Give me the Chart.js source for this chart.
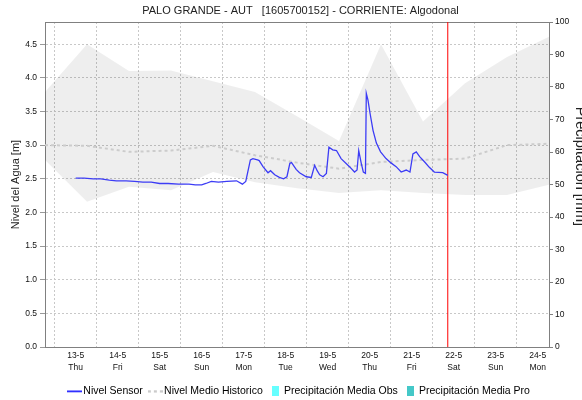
<!DOCTYPE html>
<html>
<head>
<meta charset="utf-8">
<script src="https://cdn.jsdelivr.net/npm/chart.js@4.4.1/dist/chart.umd.min.js"></script>
<style>
  html, body { margin: 0; padding: 0; background: #fff; }
</style>
</head>
<body>
<canvas id="graph" width="582" height="400"></canvas>
<script>
// x axis is in days counted from 13-5 00:00
var dayTicks = [0, 1, 2, 3, 4, 5, 6, 7, 8, 9, 10, 11];
var dayLabels = ['13-5', '14-5', '15-5', '16-5', '17-5', '18-5', '19-5', '20-5', '21-5', '22-5', '23-5', '24-5'];
var weekdayLabels = ['Thu', 'Fri', 'Sat', 'Sun', 'Mon', 'Tue', 'Wed', 'Thu', 'Fri', 'Sat', 'Sun', 'Mon'];
var xMin = -0.73;
var xMax = 11.27;
var nowDay = 8.86;

var levelMax = 4.83;
var levelTicks = [0, 0.5, 1, 1.5, 2, 2.5, 3, 3.5, 4, 4.5];
var rainTicks = [0, 10, 20, 30, 40, 50, 60, 70, 80, 90, 100];

// sensor readings (m)
var sensorDays = [0.00, 0.20, 0.42, 0.60, 0.80, 0.97, 1.20, 1.40, 1.60, 1.80, 2.00, 2.20, 2.45, 2.70, 2.85, 3.00,
  3.10, 3.23, 3.40, 3.60, 3.83, 3.97, 4.05, 4.16, 4.22, 4.33, 4.37, 4.46, 4.58, 4.64, 4.74, 4.85, 4.95, 5.03,
  5.10, 5.14, 5.25, 5.33, 5.49, 5.61, 5.69, 5.75, 5.81, 5.89, 5.97, 6.03, 6.12, 6.21, 6.32, 6.52, 6.64, 6.70,
  6.74, 6.80, 6.85, 6.90, 6.92, 6.96, 7.01, 7.08, 7.16, 7.26, 7.39, 7.50, 7.63, 7.75, 7.87, 7.96, 8.03, 8.11,
  8.19, 8.31, 8.42, 8.54, 8.74, 8.86];
var sensorLevel = [2.51, 2.51, 2.50, 2.50, 2.48, 2.47, 2.47, 2.46, 2.45, 2.45, 2.43, 2.43, 2.42, 2.42, 2.41, 2.41,
  2.43, 2.46, 2.45, 2.46, 2.47, 2.42, 2.46, 2.78, 2.80, 2.78, 2.77, 2.68, 2.59, 2.62, 2.56, 2.52, 2.50, 2.53,
  2.73, 2.74, 2.64, 2.59, 2.53, 2.52, 2.70, 2.62, 2.56, 2.53, 2.58, 2.97, 2.93, 2.92, 2.80, 2.68, 2.60, 2.63,
  2.92, 2.73, 2.60, 2.58, 3.77, 3.67, 3.47, 3.22, 3.03, 2.90, 2.80, 2.74, 2.68, 2.60, 2.63, 2.60, 2.87, 2.90,
  2.83, 2.75, 2.67, 2.60, 2.59, 2.55];

// historic daily values (m)
var histDays = [-0.73, 0.27, 1.27, 2.27, 3.27, 4.27, 5.27, 6.27, 7.27, 8.27, 9.27, 10.27, 11.27];
var histMean = [3.00, 2.99, 2.90, 2.92, 2.99, 2.85, 2.74, 2.65, 2.75, 2.78, 2.80, 3.00, 3.02];
var histHigh = [3.79, 4.50, 4.10, 4.11, 3.95, 3.79, 3.43, 3.06, 4.50, 3.35, 3.92, 4.31, 4.61];
var histLow = [2.78, 2.16, 2.38, 2.33, 2.60, 2.45, 2.36, 2.29, 2.33, 2.29, 2.26, 2.26, 2.41];

// precipitation (mm), nothing reported
var rainObs = [];
var rainPro = [];

function points(xs, ys) {
  return xs.map(function(x, i) { return {x: x, y: ys[i]}; });
}

function lineIcon(color, width, dash) {
  var c = document.createElement('canvas');
  c.width = 15; c.height = 3;
  var ctx = c.getContext('2d');
  ctx.strokeStyle = color;
  ctx.lineWidth = width;
  ctx.setLineDash(dash);
  ctx.beginPath();
  ctx.moveTo(0, 1.5);
  ctx.lineTo(15, 1.5);
  ctx.stroke();
  return c;
}

function boxIcon(color) {
  var c = document.createElement('canvas');
  c.width = 7; c.height = 10;
  var ctx = c.getContext('2d');
  ctx.fillStyle = color;
  ctx.fillRect(0, 0, 7, 10);
  return c;
}

Chart.defaults.font.family = '"Liberation Sans", Arial, sans-serif';
Chart.defaults.color = '#111';

var context = document.querySelector('#graph').getContext('2d');
var chart = new Chart(context, {
  type: 'line',
  data: {
    datasets: [{
      label: 'Nivel Sensor',
      icon: lineIcon('#0000ff', 1.5, []),
      data: points(sensorDays, sensorLevel),
      borderColor: '#3c3cf5',
      borderWidth: 1.3,
      pointRadius: 0,
      yAxisID: 'y'
    }, {
      label: 'Nivel Medio Historico',
      icon: lineIcon('#c4c4c4', 2, [3, 3]),
      data: points(histDays, histMean),
      borderColor: '#cccccc',
      borderWidth: 2,
      borderDash: [3, 3],
      pointRadius: 0,
      yAxisID: 'y'
    }, {
      type: 'bar',
      label: 'Precipitación Media Obs',
      icon: boxIcon('#66ffff'),
      data: rainObs,
      backgroundColor: '#66ffff',
      yAxisID: 'y1'
    }, {
      type: 'bar',
      label: 'Precipitación Media Pro',
      icon: boxIcon('#44c8c8'),
      data: rainPro,
      backgroundColor: '#44c8c8',
      yAxisID: 'y1'
    }, {
      data: [{x: nowDay, y: 0}, {x: nowDay, y: levelMax}],
      borderColor: '#ff0000',
      borderWidth: 1,
      pointRadius: 0,
      yAxisID: 'y'
    }, {
      data: points(histDays, histHigh),
      borderWidth: 0,
      pointRadius: 0,
      backgroundColor: 'rgba(0,0,0,0.065)',
      fill: '+1',
      yAxisID: 'y'
    }, {
      data: points(histDays, histLow),
      borderWidth: 0,
      pointRadius: 0,
      fill: false,
      yAxisID: 'y'
    }]
  },
  options: {
    responsive: false,
    animation: false,
    layout: { padding: { left: 19 } },
    plugins: {
      tooltip: { enabled: false },
      title: {
        display: true,
        text: 'PALO GRANDE - AUT   [1605700152] - CORRIENTE: Algodonal',
        color: '#222',
        font: { size: 11, weight: 'normal' },
        padding: { top: 4.4, bottom: 4.4 }
      },
      legend: {
        position: 'bottom',
        maxHeight: 23,
        labels: {
          usePointStyle: true,
          pointStyleWidth: 7,
          boxHeight: 10,
          padding: 9,
          color: '#111',
          font: { size: 10.5 },
          generateLabels: function(chart) {
            var items = [];
            chart.data.datasets.forEach(function(ds, i) {
              if (!ds.label) return;
              items.push({
                text: ds.label,
                pointStyle: ds.icon,
                datasetIndex: i,
                hidden: false,
                lineWidth: 0,
                fillStyle: 'transparent',
                strokeStyle: 'transparent'
              });
            });
            return items;
          }
        }
      }
    },
    scales: {
      x: {
        type: 'linear',
        min: xMin,
        max: xMax,
        offset: false,
        afterBuildTicks: function(scale) {
          scale.ticks = dayTicks.map(function(v) { return {value: v}; });
        },
        afterFit: function(scale) { scale.height = 30; },
        ticks: {
          autoSkip: false,
          maxRotation: 0,
          padding: 3,
          color: '#111',
          font: { size: 8.5, lineHeight: 1.35 },
          callback: function(value, index) {
            return [dayLabels[index], weekdayLabels[index]];
          }
        },
        grid: { color: '#c8c8c8', drawTicks: false },
        border: { color: '#808080', dash: [2, 2] }
      },
      x2: {
        type: 'linear',
        position: 'top',
        min: xMin,
        max: xMax,
        afterFit: function(scale) { scale.height = 0; },
        ticks: { display: false },
        grid: { display: false, drawTicks: false },
        border: { color: '#808080' }
      },
      y: {
        position: 'left',
        min: 0,
        max: levelMax,
        afterBuildTicks: function(scale) {
          scale.ticks = levelTicks.map(function(v) { return {value: v}; });
        },
        afterFit: function(scale) { scale.width = 26; },
        ticks: {
          padding: 3,
          color: '#111',
          font: { size: 8.5 },
          callback: function(value) { return value.toFixed(1); }
        },
        grid: { color: '#c8c8c8', tickLength: 5, tickColor: '#999999' },
        border: { color: '#808080', dash: [2, 2] },
        title: {
          display: true,
          text: 'Nivel del Agua [m]',
          color: '#222',
          font: { size: 11 },
          padding: { top: -10, bottom: 0 }
        }
      },
      y1: {
        position: 'right',
        min: 0,
        max: 100,
        afterBuildTicks: function(scale) {
          scale.ticks = rainTicks.map(function(v) { return {value: v}; });
        },
        afterFit: function(scale) { scale.width = 33; },
        ticks: {
          padding: 2,
          color: '#111',
          font: { size: 8.5 }
        },
        grid: { drawOnChartArea: false, tickLength: 4, color: '#808080' },
        border: { color: '#808080' },
        title: {
          display: true,
          text: 'Precipitación [mm]         ',
          color: '#222',
          font: { size: 14.5 },
          padding: { top: -6.5, bottom: 0 }
        }
      }
    }
  }
});
</script>
</body>
</html>
